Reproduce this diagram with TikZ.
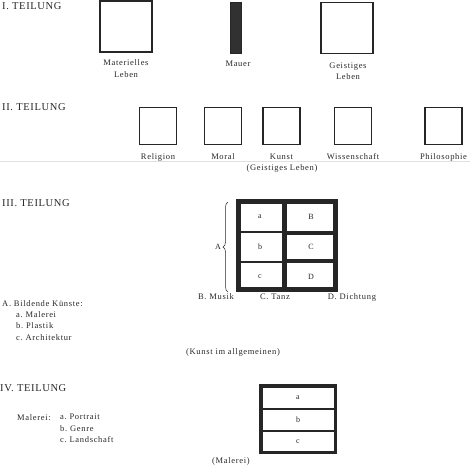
\documentclass[tikz,border=0pt]{standalone}
\usepackage{fontspec}
\setmainfont{Liberation Serif}
\newfontfamily\spaced[LetterSpace=8]{Liberation Serif}
\newfontfamily\headfont[LetterSpace=6]{Liberation Serif}
\usetikzlibrary{decorations.pathreplacing}
\definecolor{Ink}{HTML}{262626}
\tikzset{
  field box/.style={draw=Ink,line width=1.8pt,minimum width=52pt,minimum height=51pt,inner sep=0pt},
  small box/.style={draw=Ink,line width=1.5pt,minimum width=37pt,minimum height=37pt,inner sep=0pt},
  part head/.style={anchor=west,inner sep=0pt,font=\headfont\fontsize{10.5}{12}\selectfont,text=Ink},
  part label/.style={inner sep=0pt,align=center,font=\spaced\fontsize{8.5}{11.5}\selectfont,text=Ink},
  list text/.style={anchor=north west,inner sep=0pt,align=left,font=\spaced\fontsize{8.5}{11.5}\selectfont,text=Ink},
  cell letter/.style={inner sep=0pt,font=\fontsize{8}{9}\selectfont,text=Ink},
  thin rule/.style={draw=Ink,line width=1.5pt},
  thick rule/.style={draw=Ink,line width=3.5pt}
}

\begin{document}
\begin{tikzpicture}[x=1pt,y=-1pt]
  \useasboundingbox (0,0) rectangle (470,467);
  % I. Teilung
  \node[part head] (head one) at (2,6) {I. TEILUNG};
  \node[field box] (mat box) at (126,26.5) {};
  \node[draw=Ink,fill=Ink!95,minimum width=11pt,minimum height=51pt,inner sep=0pt] (mauer) at (236,27.5) {};
  \node[field box] (geist box) at (347,28) {};
  \node[part label] (mat label) at (126,68.5) {Materielles\\Leben};
  \node[part label] (mauer label) at (238,64) {Mauer};
  \node[part label] (geist label) at (348,71) {Geistiges\\Leben};
  % II. Teilung
  \node[part head] (head two) at (2,107) {II. TEILUNG};
  \foreach \x/\name in {158/Religion,223/Moral,281.5/Kunst,353/Wissenschaft,443.5/Philosophie}{
    \node[small box] (box \name) at (\x,126) {};
    \node[part label] (label \name) at (\x,157) {\name};
  }
  \node[part label] (geist sub) at (282,168) {(Geistiges Leben)};
  \draw[black!12,line width=0.6pt] (0,161.5) -- (470,161.5);
  % III. Teilung
  \node[part head] (head three) at (2,203) {III. TEILUNG};
  \draw[draw=Ink,line width=5pt] (238.5,201.5) rectangle (335.5,289.5);
  \fill[Ink] (282,199) rectangle (287,292);
  \draw[thin rule] (240,232) -- (282,232);
  \draw[thin rule] (240,262) -- (282,262);
  \draw[thick rule] (287,233) -- (336,233);
  \draw[thick rule] (287,261) -- (336,261);
  \foreach \y/\l/\r in {217/a/B,247/b/C,277/c/D}{
    \node[cell letter] (cell \l) at (260,\y) {\l};
    \node[cell letter] (cell \r) at (311,\y) {\r};
  }
  \draw[Ink,line width=0.5pt,decorate,decoration={brace,amplitude=5pt}] (228,292) -- (228,202);
  \node[cell letter] (brace label) at (218,247) {A};
  \node[part label] (musik) at (216,297) {B. Musik};
  \node[part label] (tanz) at (275,297) {C. Tanz};
  \node[part label] (dichtung) at (352,297) {D. Dichtung};
  \node[list text] (bildend) at (2,300) {A.\ Bildende Künste:};
  \node[list text] (bildend list) at (16,311) {a.\ Malerei\\b.\ Plastik\\c.\ Architektur};
  \node[part label] (kunst sub) at (233,352) {(Kunst im allgemeinen)};
  % IV. Teilung
  \node[part head] (head four) at (0,388) {IV. TEILUNG};
  \draw[draw=Ink,line width=3.5pt] (260.75,385.75) rectangle (335.25,452.25);
  \draw[thin rule] (262,409) -- (334,409);
  \draw[thin rule] (262,431) -- (334,431);
  \node[cell letter] (mal a) at (298,397.5) {a};
  \node[cell letter] (mal b) at (298,420) {b};
  \node[cell letter] (mal c) at (298,441.5) {c};
  \node[list text] (malerei) at (17,414) {Malerei:};
  \node[list text] (malerei list) at (60,414) {a.\ Portrait\\b.\ Genre\\c.\ Landschaft};
  \node[part label] (mal sub) at (231,461) {(Malerei)};
\end{tikzpicture}
\end{document}
